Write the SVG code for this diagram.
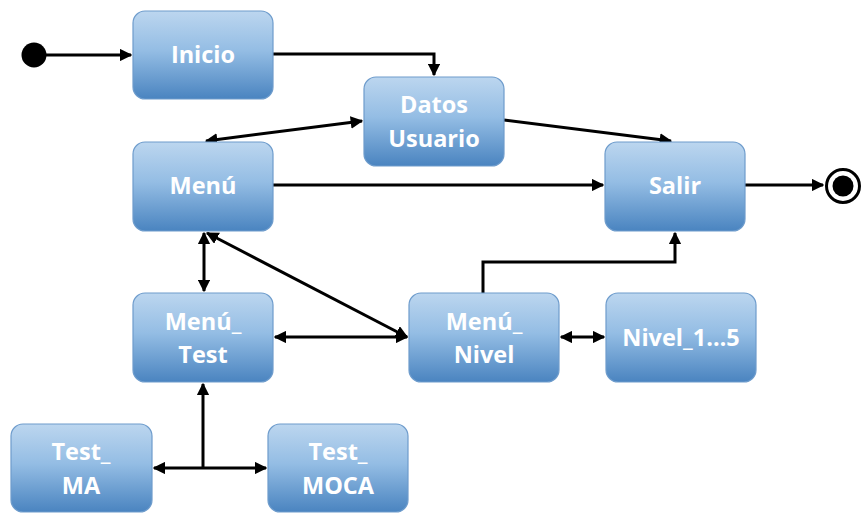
<svg xmlns="http://www.w3.org/2000/svg" width="861" height="513" viewBox="0 0 861 513">
  <defs>
    <linearGradient id="boxFill" x1="0" y1="0" x2="0" y2="1">
      <stop offset="0" stop-color="#bcd6ef"/>
      <stop offset="0.45" stop-color="#94bde4"/>
      <stop offset="1" stop-color="#4a84c0"/>
    </linearGradient>
    <marker id="arrow" viewBox="0 0 10 10" refX="9" refY="5" markerWidth="4.2" markerHeight="4.2" orient="auto-start-reverse" markerUnits="strokeWidth">
      <path d="M0,0 L10,5 L0,10 Z" fill="#000"/>
    </marker>
  </defs>
  <style>
    .box { fill: url(#boxFill); stroke: #6e9ccc; stroke-width: 1.2; }
    .lbl { font-family: "Open Sans", "Liberation Sans", sans-serif; font-weight: bold; font-size: 23.5px; fill: #ffffff; text-anchor: middle; }
    .edge { fill: none; stroke: #000; stroke-width: 3; }
  </style>
  <rect width="861" height="513" fill="#ffffff"/>

  <!-- connectors -->
  <g id="connectors">
    <line class="edge" x1="46" y1="55" x2="131" y2="55" marker-end="url(#arrow)"/>
    <polyline class="edge" points="273,54 434,54 434,75" marker-end="url(#arrow)"/>
    <line class="edge" x1="206" y1="141" x2="362" y2="121" marker-start="url(#arrow)" marker-end="url(#arrow)"/>
    <line class="edge" x1="504" y1="120" x2="671" y2="141" marker-end="url(#arrow)"/>
    <line class="edge" x1="273" y1="185" x2="603" y2="185" marker-end="url(#arrow)"/>
    <line class="edge" x1="745" y1="185" x2="823" y2="185" marker-end="url(#arrow)"/>
    <line class="edge" x1="204" y1="233" x2="204" y2="291" marker-start="url(#arrow)" marker-end="url(#arrow)"/>
    <line class="edge" x1="207" y1="233" x2="407" y2="337" marker-start="url(#arrow)" marker-end="url(#arrow)"/>
    <line class="edge" x1="275" y1="337" x2="407" y2="337" marker-start="url(#arrow)" marker-end="url(#arrow)"/>
    <polyline class="edge" points="483,293 483,262 675,262 675,233" marker-end="url(#arrow)"/>
    <line class="edge" x1="561" y1="337" x2="604" y2="337" marker-start="url(#arrow)" marker-end="url(#arrow)"/>
    <line class="edge" x1="203" y1="468" x2="203" y2="384" marker-end="url(#arrow)"/>
    <line class="edge" x1="154" y1="468" x2="266" y2="468" marker-start="url(#arrow)" marker-end="url(#arrow)"/>
  </g>

  <!-- start / end pseudo-states -->
  <g id="start">
    <circle cx="34" cy="55" r="12.5" fill="#000"/>
  </g>
  <g id="end">
    <circle cx="843" cy="186" r="16.5" fill="#fff" stroke="#000" stroke-width="3"/>
    <circle cx="843" cy="186" r="10.5" fill="#000"/>
  </g>

  <!-- states -->
  <g id="inicio">
    <rect class="box" x="133" y="11" width="140" height="88" rx="12"/>
    <text class="lbl" x="203" y="63">Inicio</text>
  </g>
  <g id="datos-usuario">
    <rect class="box" x="364" y="77" width="140" height="89" rx="12"/>
    <text class="lbl" x="434" y="113">Datos</text>
    <text class="lbl" x="434" y="147">Usuario</text>
  </g>
  <g id="menu">
    <rect class="box" x="133" y="142" width="140" height="89" rx="12"/>
    <text class="lbl" x="203" y="194">Menú</text>
  </g>
  <g id="salir">
    <rect class="box" x="605" y="142" width="140" height="89" rx="12"/>
    <text class="lbl" x="675" y="194">Salir</text>
  </g>
  <g id="menu-test">
    <rect class="box" x="133" y="293" width="140" height="89" rx="12"/>
    <text class="lbl" x="203" y="330">Menú_</text>
    <text class="lbl" x="203" y="363">Test</text>
  </g>
  <g id="menu-nivel">
    <rect class="box" x="409" y="293" width="150" height="89" rx="12"/>
    <text class="lbl" x="484" y="330">Menú_</text>
    <text class="lbl" x="484" y="363">Nivel</text>
  </g>
  <g id="nivel">
    <rect class="box" x="606" y="293" width="150" height="89" rx="12"/>
    <text class="lbl" x="681" y="346">Nivel_1…5</text>
  </g>
  <g id="test-ma">
    <rect class="box" x="11" y="424" width="141" height="88" rx="12"/>
    <text class="lbl" x="81" y="460">Test_</text>
    <text class="lbl" x="81" y="494">MA</text>
  </g>
  <g id="test-moca">
    <rect class="box" x="268" y="424" width="140" height="88" rx="12"/>
    <text class="lbl" x="338" y="460">Test_</text>
    <text class="lbl" x="338" y="494">MOCA</text>
  </g>
</svg>
